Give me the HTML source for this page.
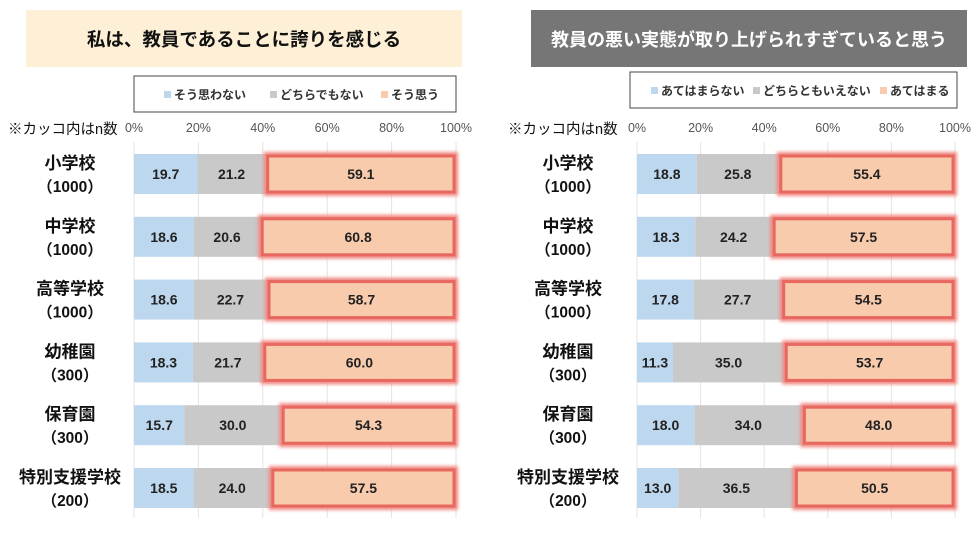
<!DOCTYPE html>
<html><head><meta charset="utf-8">
<style>
body{margin:0;background:#fff;width:980px;height:530px;overflow:hidden;font-family:"Liberation Sans","Noto Sans CJK JP",sans-serif;}
svg text{font-family:"Liberation Sans","Noto Sans CJK JP",sans-serif;}
</style></head><body>
<svg id="c" width="980" height="530" xmlns="http://www.w3.org/2000/svg">
<defs><filter id="glow" x="-10%" y="-30%" width="120%" height="160%"><feGaussianBlur stdDeviation="1.5"/></filter></defs>
</svg>
<script>
const categories=["小学校","中学校","高等学校","幼稚園","保育園","特別支援学校"];
const nLabels=["（1000）","（1000）","（1000）","（300）","（300）","（200）"];
const ticks=[0,20,40,60,80,100];
const leftNeg=[19.7,18.6,18.6,18.3,15.7,18.5];
const leftMid=[21.2,20.6,22.7,21.7,30.0,24.0];
const leftPos=[59.1,60.8,58.7,60.0,54.3,57.5];
const rightNeg=[18.8,18.3,17.8,11.3,18.0,13.0];
const rightMid=[25.8,24.2,27.7,35.0,34.0,36.5];
const rightPos=[55.4,57.5,54.5,53.7,48.0,50.5];
const leftLegend=["そう思わない","どちらでもない","そう思う"];
const rightLegend=["あてはまらない","どちらともいえない","あてはまる"];

const svg=document.getElementById('c');
const NS='http://www.w3.org/2000/svg';
function mk(tag,attrs,parent){const e=document.createElementNS(NS,tag);for(const k in attrs)e.setAttribute(k,attrs[k]);(parent||svg).appendChild(e);return e;}
const colors=["#bdd7ee","#c9c9c9","#f8cbad"];
const rowTop=154, rowPitch=62.8, barH=40;
function yRow(i){return rowTop+i*rowPitch;}

function panel(opt){
  const g=mk('g',{});
  
  
  const x=v=>opt.x0+(opt.x1-opt.x0)*v/100;
  const tb=mk('rect',{x:opt.tx,y:10,width:436,height:57,fill:opt.tbg},g);
  
  const tt=mk('text',{x:opt.tx+218,y:46,'text-anchor':'middle','font-size':opt.tsize,'font-weight':'bold',fill:opt.tcol},g);
  tt.textContent=opt.title;
  
  const lg=mk('g',{},g);
  
  mk('rect',{x:opt.lx,y:opt.ly,width:opt.lw,height:36,fill:'#fff',stroke:'#444','stroke-width':1},lg);
  opt.legend.forEach((t,k)=>{
    const ex=opt.legX[k];
    const e=mk('g',{},lg);
    
    mk('rect',{x:ex,y:opt.ly+15,width:7,height:7,fill:colors[k]},e);
    const tx=mk('text',{x:ex+10,y:opt.ly+23,'font-size':12,'font-weight':'bold',fill:'#333'},e);tx.textContent=t;
  });
  const nt=mk('text',{x:opt.noteX,y:134,'font-size':14.5,fill:'#111'},g);nt.textContent='※カッコ内はn数';
  
  ticks.forEach(t=>{
    const tl=mk('text',{x:x(t),y:132,'text-anchor':'middle','font-size':12.5,fill:'#555'},g);tl.textContent=t+'%';
    
    const gl=mk('line',{x1:x(t),x2:x(t),y1:142,y2:518,stroke:'#e3e3e3','stroke-width':1},g);
    
  });
  categories.forEach((c,i)=>{
    const y=yRow(i);
    const cl=mk('text',{x:opt.catX,y:y+15,'text-anchor':'middle','font-size':17,'font-weight':'bold',fill:'#111'},g);cl.textContent=c;
    
    const nl=mk('text',{x:opt.catX,y:y+38,'text-anchor':'middle','font-size':15.5,'font-weight':'bold',fill:'#111'},g);nl.textContent=nLabels[i];
    
    const vals=[opt.neg[i],opt.mid[i],opt.pos[i]];
    let acc=0;
    vals.forEach((v,k)=>{
      const xa=x(acc), xb=x(acc+v);
      if(k===2){
        mk('rect',{x:xa+1,y:y+1,width:xb-xa-2,height:barH-2,fill:'none',stroke:'#f08a84','stroke-width':6,filter:'url(#glow)'},g);
        const r=mk('rect',{x:xa+2,y:y+2,width:xb-xa-4,height:barH-4,fill:colors[k],stroke:'#e8675f','stroke-width':3},g);
        
      } else {
        const r=mk('rect',{x:xa,y:y,width:xb-xa,height:barH,fill:colors[k]},g);
        
      }
      const vl=mk('text',{x:(xa+xb)/2,y:y+25,'text-anchor':'middle','font-size':14,'font-weight':'bold',fill:'#222'},g);
      vl.textContent=v.toFixed(1);
      
      acc+=v;
    });
  });
}
panel({name:'left-chart',x0:134,x1:456,tx:26,tbg:'#fdf0d6',tcol:'#111',tsize:18.5,title:'私は、教員であることに誇りを感じる',
  lx:134,ly:76,lw:322,legend:leftLegend,legX:[164,270,381],noteX:8,catX:70,neg:leftNeg,mid:leftMid,pos:leftPos});
panel({name:'right-chart',x0:637,x1:955,tx:531,tbg:'#767676',tcol:'#fff',tsize:18,title:'教員の悪い実態が取り上げられすぎていると思う',
  lx:630,ly:72,lw:327,legend:rightLegend,legX:[651,753,880],noteX:508,catX:568,neg:rightNeg,mid:rightMid,pos:rightPos});
</script>
</body></html>
